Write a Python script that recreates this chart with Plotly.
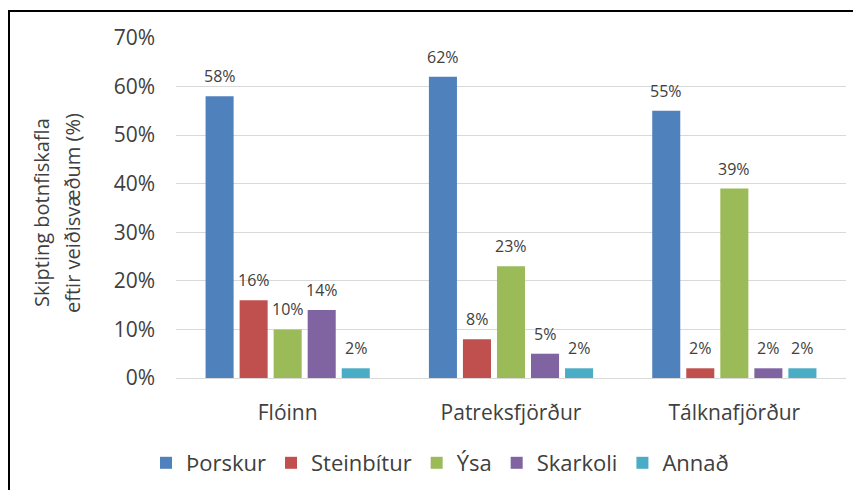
import plotly.graph_objects as go

categories = ["Flóinn", "Patreksfjörður", "Tálknafjörður"]
series_names = ["Þorskur", "Steinbítur", "Ýsa", "Skarkoli", "Annað"]
thorskur = [58, 62, 55]
steinbitur = [16, 8, 2]
ysa = [10, 23, 39]
skarkoli = [14, 5, 2]
annad = [2, 2, 2]
y_ticks = [0, 10, 20, 30, 40, 50, 60, 70]

series_values = [thorskur, steinbitur, ysa, skarkoli, annad]
colors = ["#4F81BD", "#C0504D", "#9BBB59", "#8064A2", "#4BACC6"]

FONT = "Open Sans"
TXT = "#404040"

fig = go.Figure()
for name, vals, col in zip(series_names, series_values, colors):
    fig.add_trace(go.Bar(
        x=categories, y=vals, name=name,
        marker=dict(color=col, line=dict(width=0)),
        hoverinfo="x+y+name",
    ))

# page offset of the figure inside the browser body (default body margin)
OFF = 8
# plot area geometry in figure px
L = 176 - OFF
T = 38 - OFF
B = 490 - (378 - OFF)
R = 861 - (846 - OFF)
W = 861 - L - R
H = 490 - T - B
bottom_px = 378 - OFF

def px_x(ref_x):
    return (ref_x - OFF - L) / W

def px_y(ref_y):
    return (bottom_px - (ref_y - OFF)) / H

bargap = 0.238
slot = (W / 3) * (1 - bargap) / 5

annotations = []
for i, vals in enumerate(series_values):
    for c, v in zip(categories, vals):
        annotations.append(dict(
            x=c, y=v, xref="x", yref="y", text=f"{v}%", showarrow=False,
            xshift=(i - 2) * slot, yshift=20, yanchor="middle",
            font=dict(family=FONT, size=16, color=TXT),
        ))

# y axis title as two lines
for txt, xr in [("Skipting botnfiskafla", 42), ("eftir veiðisvæðum (%)", 73)]:
    annotations.append(dict(
        x=px_x(xr), y=px_y(213), xref="paper", yref="paper", text=txt,
        textangle=-90, showarrow=False, xanchor="center", yanchor="middle",
        font=dict(family=FONT, size=20, color=TXT),
    ))

fig.update_layout(
    width=861, height=490,
    margin=dict(l=L, r=R, t=T, b=B, autoexpand=False),
    paper_bgcolor="white", plot_bgcolor="white",
    barmode="group", bargap=bargap, bargroupgap=0.176,
    font=dict(family=FONT, color=TXT),
    showlegend=True,
    legend=dict(
        orientation="h", x=px_x(440), xanchor="center", y=px_y(463), yanchor="middle",
        font=dict(family=FONT, size=22, color=TXT), traceorder="normal",
        itemwidth=30,
    ),
    annotations=annotations,
    shapes=[dict(
        type="rect", xref="paper", yref="paper",
        x0=px_x(9), x1=px_x(880), y0=px_y(510), y1=px_y(11),
        line=dict(color="black", width=2), fillcolor="rgba(0,0,0,0)", layer="below",
    )],
)
fig.update_xaxes(
    showgrid=False, showline=False, zeroline=False, ticks="",
    tickfont=dict(family=FONT, size=21, color=TXT), ticklabelstandoff=20,
)
fig.update_yaxes(
    range=[0, 70], tickvals=y_ticks, ticktext=[f"{t}%" for t in y_ticks],
    showgrid=True, gridcolor="#D9D9D9", gridwidth=1,
    zeroline=True, zerolinecolor="#D9D9D9", zerolinewidth=1,
    showline=False, ticks="",
    tickfont=dict(family=FONT, size=21, color=TXT), ticklabelstandoff=20,
)

fig.write_html("out.html")
